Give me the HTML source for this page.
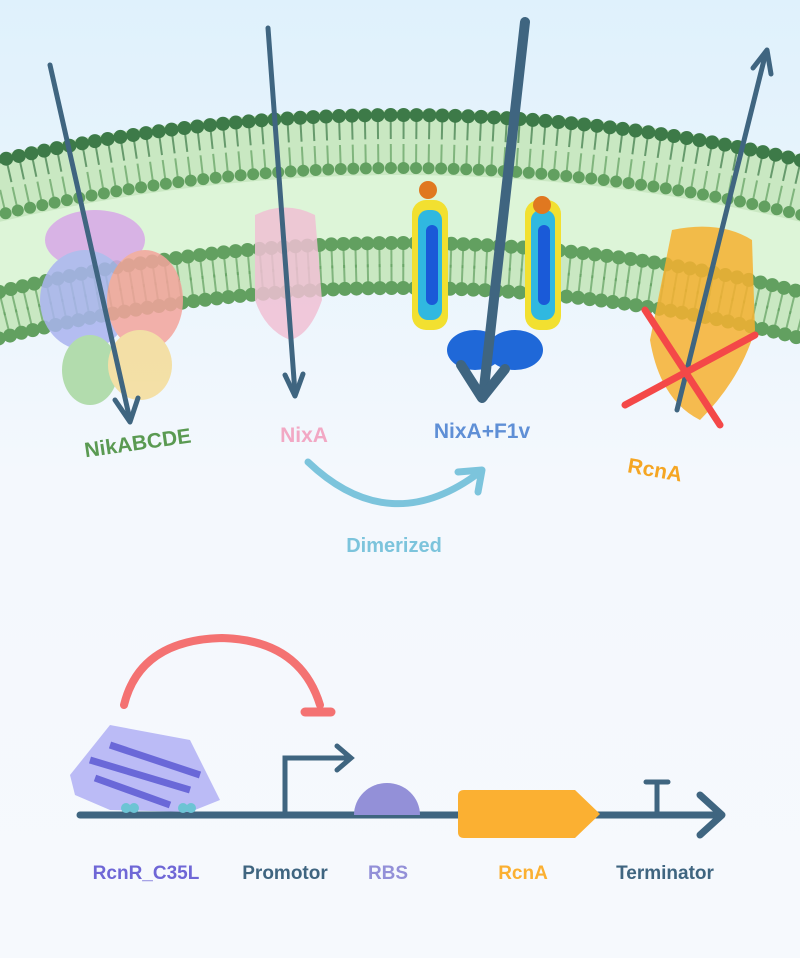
<!DOCTYPE html>
<html><head><meta charset="utf-8"><style>
html,body{margin:0;padding:0;width:800px;height:958px;overflow:hidden}
svg{display:block}
text{font-family:"Liberation Sans",sans-serif;font-weight:bold}
</style></head><body>
<svg id="s" width="800" height="958" viewBox="0 0 800 958">
<defs>
<linearGradient id="bg" x1="0" y1="0" x2="0" y2="1">
<stop offset="0" stop-color="#dff1fc"/><stop offset="0.5" stop-color="#f4f8fd"/><stop offset="1" stop-color="#f6f9fd"/>
</linearGradient>
</defs>
<rect width="800" height="958" fill="url(#bg)"/>
<g id="mem"></g>

<g opacity="0.85">
<ellipse cx="95" cy="240" rx="50" ry="30" fill="#d8a8e8"/>
<ellipse cx="85" cy="300" rx="45" ry="50" fill="#aab4f0"/>
<ellipse cx="145" cy="300" rx="38" ry="50" fill="#f4a49c"/>
<ellipse cx="90" cy="370" rx="28" ry="35" fill="#a8d8a0"/>
<ellipse cx="140" cy="365" rx="32" ry="35" fill="#f4dc98"/>
</g>
<g opacity="0.85">
<path d="M255 215 Q285 200 315 215 L322 300 Q310 335 290 340 Q265 330 255 300 Z" fill="#f0c0d4"/>
</g>
<g>
<rect x="412" y="200" width="36" height="130" rx="14" fill="#f2e030"/>
<rect x="418" y="210" width="24" height="110" rx="10" fill="#30b8e0"/>
<rect x="426" y="225" width="12" height="80" rx="6" fill="#1a5ad8"/>
<rect x="525" y="200" width="36" height="130" rx="14" fill="#f2e030"/>
<rect x="531" y="210" width="24" height="110" rx="10" fill="#30b8e0"/>
<rect x="538" y="225" width="12" height="80" rx="6" fill="#1a5ad8"/>
<circle cx="428" cy="190" r="9" fill="#e07820"/><circle cx="542" cy="205" r="9" fill="#e07820"/>
<ellipse cx="475" cy="350" rx="28" ry="20" fill="#1f68d8"/>
<ellipse cx="515" cy="350" rx="28" ry="20" fill="#1f68d8"/>
</g>
<g opacity="0.85">
<path d="M672 230 Q720 220 752 240 L755 330 Q740 380 700 420 Q660 400 650 340 Z" fill="#f6b030"/>
</g>

<g stroke="#3f6580" fill="none" stroke-linecap="round" stroke-linejoin="round">
<line x1="50" y1="65" x2="130" y2="420" stroke-width="5"/>
<polyline points="115,400 130,422 138,398" stroke-width="5"/>
<line x1="268" y1="28" x2="295" y2="393" stroke-width="5"/>
<polyline points="285,375 295,396 303,374" stroke-width="5"/>
<line x1="525" y1="22" x2="483" y2="397" stroke-width="10"/>
<polyline points="461,365 482,398 505,369" stroke-width="10"/>
<line x1="677" y1="410" x2="766" y2="52" stroke-width="5"/>
<polyline points="753,68 767,50 771,74" stroke-width="5"/>
</g>
<g stroke="#f44848" stroke-width="7" stroke-linecap="round">
<line x1="645" y1="310" x2="720" y2="425"/><line x1="625" y1="405" x2="755" y2="335"/>
</g>

<text x="138" y="450" fill="#5a9a52" font-size="21" text-anchor="middle" transform="rotate(-8 138 445)">NikABCDE</text>
<text x="304" y="442" fill="#f2a8c4" font-size="21" text-anchor="middle">NixA</text>
<text x="482" y="438" fill="#5f8fd6" font-size="21" text-anchor="middle">NixA+F1v</text>
<text x="655" y="477" fill="#f5a623" font-size="21" text-anchor="middle" transform="rotate(10 655 470)">RcnA</text>
<path d="M308 462 Q390 540 480 472" stroke="#7cc4dc" stroke-width="7" fill="none" stroke-linecap="round"/>
<polyline points="458,472 482,470 478,492" stroke="#7cc4dc" stroke-width="7" fill="none" stroke-linecap="round" stroke-linejoin="round"/>
<text x="394" y="552" fill="#7cc4dc" font-size="20" text-anchor="middle">Dimerized</text>

<path d="M124 705 Q140 640 222 638 Q300 640 320 705" stroke="#f47272" stroke-width="8" fill="none" stroke-linecap="round"/>
<line x1="305" y1="712" x2="331" y2="712" stroke="#f47272" stroke-width="9" stroke-linecap="round"/>
<line x1="80" y1="815" x2="720" y2="815" stroke="#3f6580" stroke-width="7" stroke-linecap="round"/>
<polyline points="700,795 722,815 700,835" stroke="#3f6580" stroke-width="7" fill="none" stroke-linecap="round" stroke-linejoin="round"/>
<g>
<path d="M70 775 L110 725 L190 740 L220 800 L190 812 L110 810 L75 795 Z" fill="#b0b0f4" opacity="0.85"/>
<path d="M90 760 L190 790 M110 745 L200 775 M95 778 L170 805" stroke="#6a68d8" stroke-width="7" fill="none"/>
<circle cx="126" cy="808" r="5" fill="#6cc4d4"/><circle cx="134" cy="808" r="5" fill="#6cc4d4"/>
<circle cx="183" cy="808" r="5" fill="#6cc4d4"/><circle cx="191" cy="808" r="5" fill="#6cc4d4"/>
</g>
<polyline points="285,815 285,758 350,758" stroke="#3f6580" stroke-width="5" fill="none"/>
<polyline points="337,746 351,758 337,770" stroke="#3f6580" stroke-width="5" fill="none" stroke-linecap="round"/>
<path d="M354 815 A33 32 0 0 1 420 815 Z" fill="#9390d8"/>
<path d="M464 790 L575 790 L600 814 L575 838 L464 838 Q458 838 458 832 L458 796 Q458 790 464 790 Z" fill="#fbb032"/>
<line x1="657" y1="815" x2="657" y2="783" stroke="#3f6580" stroke-width="5"/>
<line x1="646" y1="782" x2="668" y2="782" stroke="#3f6580" stroke-width="5" stroke-linecap="round"/>
<text x="146" y="879" fill="#6f67d6" font-size="19" text-anchor="middle">RcnR_C35L</text>
<text x="285" y="879" fill="#3f6580" font-size="19" text-anchor="middle">Promotor</text>
<text x="388" y="879" fill="#9390d8" font-size="19" text-anchor="middle">RBS</text>
<text x="523" y="879" fill="#fbb032" font-size="19" text-anchor="middle">RcnA</text>
<text x="665" y="879" fill="#3f6580" font-size="19" text-anchor="middle">Terminator</text>
</svg>
<script>
(function(){
var ns="http://www.w3.org/2000/svg",g=document.getElementById('mem');
var cx=400,cy=1910,R=1800;
function arcPath(r1,r2){
 var a=0.3;
 function p(r,t){return [cx+r*Math.sin(t),cy-r*Math.cos(t)];}
 var s1=p(r1,-a),e1=p(r1,a),s2=p(r2,a),e2=p(r2,-a);
 return "M"+s1+" A"+r1+" "+r1+" 0 0 1 "+e1+" L"+s2+" A"+r2+" "+r2+" 0 0 0 "+e2+" Z";
}
function band(r1,r2,col){var el=document.createElementNS(ns,'path');el.setAttribute('d',arcPath(r1,r2));el.setAttribute('fill',col);


g.appendChild(el);}
band(R,R-182,'#c9e8c2');
band(R-65,R-128,'#ddf5d8');
function heads(r,col,rad,dir){
 for(var t=-0.25;t<=0.25;t+=0.0072){
  var x=cx+r*Math.sin(t),y=cy-r*Math.cos(t);
  if(x<-10||x>810)continue;
  var l=document.createElementNS(ns,'line');
  var x2=cx+(r-dir*24)*Math.sin(t),y2=cy-(r-dir*24)*Math.cos(t);
  l.setAttribute('x1',x);l.setAttribute('y1',y);l.setAttribute('x2',x2);l.setAttribute('y2',y2);
  l.setAttribute('stroke',col);l.setAttribute('stroke-width','2');l.setAttribute('opacity','0.7');
  
  
  g.appendChild(l);
  var c=document.createElementNS(ns,'circle');
  c.setAttribute('cx',x);c.setAttribute('cy',y);c.setAttribute('r',rad);c.setAttribute('fill',col);
  
  
  g.appendChild(c);
 }
}
heads(R-5,'#3d7a48',7,1);
heads(R-58,'#62a060',6,-1);
heads(R-133,'#62a060',7,1);
heads(R-178,'#62a060',7,-1);
})();
</script>
</body></html>
